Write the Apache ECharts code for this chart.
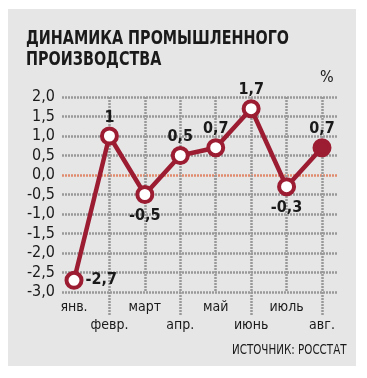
<!DOCTYPE html>
<html><head><meta charset="utf-8">
<script src="https://cdn.jsdelivr.net/npm/echarts@6/dist/echarts.min.js"></script>
<style>html,body{margin:0;padding:0;background:#fff}#c{width:367px;height:378px}</style>
</head><body><div id="c"></div>
<script>
const categories = ['янв.','февр.','март','апр.','май','июнь','июль','авг.'];
const values = [-2.7, 1, -0.5, 0.5, 0.7, 1.7, -0.3, 0.7];
const valueLabels = ['-2,7','1','-0,5','0,5','0,7','1,7','-0,3','0,7'];
const labelPositions = ['right','top','bottom','top','top','top','bottom','top'];
const yMin = -3, yMax = 2, yStep = 0.5;

const RED = '#9c1c32';
const GRAY = '#999999';
const ZERO = '#e08a6e';
const FONT = "'Liberation Sans Narrow', 'DejaVu Sans Condensed', 'Liberation Sans', sans-serif";

const nLines = Math.round((yMax - yMin) / yStep) + 1;
const splitColors = [];
for (let i = 0; i < nLines; i++) {
  splitColors.push(Math.abs(yMin + i * yStep) < 1e-9 ? ZERO : GRAY);
}

const labelDistance = { right: 2, top: 1, bottom: 4 };
const seriesData = values.map((v, i) => {
  const d = {
    value: v,
    label: { show: true, position: labelPositions[i], formatter: valueLabels[i],
             distance: labelDistance[labelPositions[i]] }
  };
  if (i === values.length - 1) d.itemStyle = { color: RED };
  return d;
});

const chart = echarts.init(document.getElementById('c'));
chart.setOption({
  animation: false,
  backgroundColor: '#ffffff',
  graphic: [
    { type: 'rect', z: -10, shape: { x: 8, y: 9, width: 348, height: 357 }, style: { fill: '#e6e6e6' } },
    { type: 'text', x: 26, y: 29, scaleX: 0.84, originX: 0,
      style: { text: 'ДИНАМИКА ПРОМЫШЛЕННОГО\nПРОИЗВОДСТВА', verticalAlign: 'top',
        font: 'bold 19px ' + FONT, fill: '#1a1a1a', lineHeight: 21 } },
    { type: 'text', x: 320, y: 70, style: { text: '%', verticalAlign: 'top', font: '16px ' + FONT, fill: '#1a1a1a' } },
    { type: 'text', x: 232, y: 343, scaleX: 0.82, originX: 0,
      style: { text: 'ИСТОЧНИК: РОССТАТ', verticalAlign: 'top', font: '14px ' + FONT, fill: '#1a1a1a' } }
  ],
  grid: [
    { left: 62, right: 29, top: 97, bottom: 86 },
    { left: 74, right: 45, top: 97, bottom: 86 }
  ],
  xAxis: [
    { gridIndex: 0, type: 'value', show: false, min: 0, max: 1 },
    { gridIndex: 1, type: 'category', data: categories, boundaryGap: false, position: 'bottom', offset: 0,
      axisLine: { show: false },
      axisTick: { show: true, interval: (i) => i % 2 === 0 && i > 0, length: 6,
                  lineStyle: { color: GRAY, width: 2.5, type: [2, 1] } },
      axisLabel: { interval: (i) => i % 2 === 0, margin: 8, color: '#1a1a1a',
                   fontFamily: FONT, fontSize: 14 },
      splitLine: { show: true, interval: (i) => i > 0,
                   lineStyle: { color: GRAY, width: 2.5, type: [2, 1] } } },
    { gridIndex: 1, type: 'category', data: categories, boundaryGap: false, position: 'bottom', offset: 0,
      axisLine: { show: false },
      axisTick: { show: true, interval: (i) => i % 2 === 1, length: 24,
                  lineStyle: { color: GRAY, width: 2.5, type: [2, 1] } },
      axisLabel: { interval: (i) => i % 2 === 1, margin: 26, color: '#1a1a1a',
                   fontFamily: FONT, fontSize: 14 },
      splitLine: { show: false } }
  ],
  yAxis: [
    { gridIndex: 0, type: 'value', min: yMin, max: yMax, interval: yStep,
      axisLine: { show: false }, axisTick: { show: false },
      axisLabel: { margin: 7, color: '#1a1a1a', fontFamily: FONT, fontSize: 16,
                   formatter: (v) => v.toFixed(1).replace('.', ',') },
      splitLine: { show: true, lineStyle: { color: splitColors, width: 2.5, type: [2, 1] } } },
    { gridIndex: 1, type: 'value', min: yMin, max: yMax, interval: yStep, show: false,
      splitLine: { show: false } }
  ],
  series: [{
    type: 'line', xAxisIndex: 1, yAxisIndex: 1, data: seriesData,
    symbol: 'circle', symbolSize: 15, z: 5,
    lineStyle: { color: RED, width: 4.5 },
    itemStyle: { color: '#ffffff', borderColor: RED, borderWidth: 4 },
    label: { color: '#1a1a1a', fontFamily: FONT, fontWeight: 'bold', fontSize: 16 }
  }]
});
</script>
</body></html>
